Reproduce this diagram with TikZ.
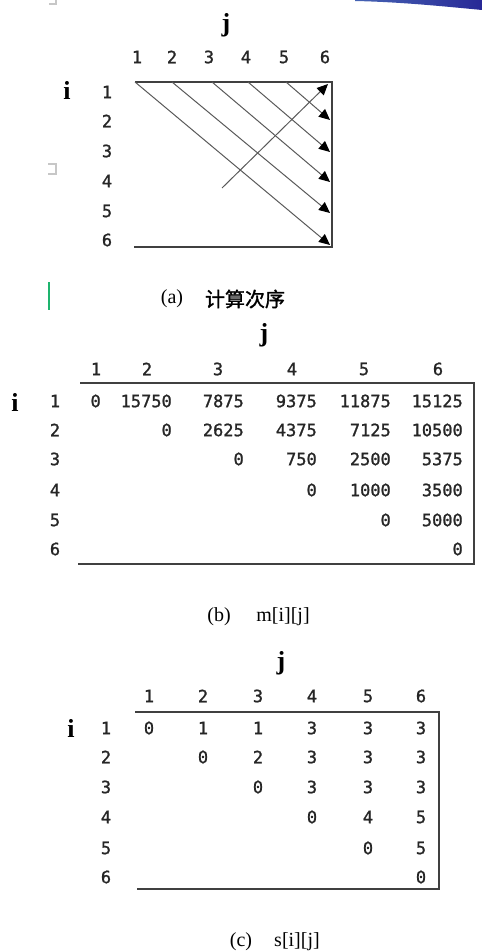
\documentclass[tikz,border=0pt]{standalone}
\usepackage{fontspec}
\setmainfont{Liberation Serif}
\newfontfamily\digitfont[FakeBold=1.2]{DejaVu Sans Mono}
\newfontfamily\cjkfont[FakeBold=1.5]{Noto Sans CJK SC}
\usetikzlibrary{arrows.meta}
\begin{document}
\begin{tikzpicture}[x=1pt,y=-1pt,
  numtext/.style={font=\digitfont\fontsize{17}{19}\selectfont, inner sep=0pt, text=black!85},
  axislabel/.style={font=\bfseries\fontsize{26}{28}\selectfont, inner sep=0pt},
  captext/.style={font=\fontsize{20}{22}\selectfont, inner sep=0pt},
  cjkcap/.style={font=\cjkfont\fontsize{20}{22}\selectfont, inner sep=0pt},
  boxline/.style={line width=1.4pt, draw=black!75},
  diagarrow/.style={line width=1pt, draw=black!65, -{Triangle[length=11pt,width=10pt,color=black]}},
  graymark/.style={line width=1.5pt, draw=black!22}]
\useasboundingbox (0,0) rectangle (482,952);

% decorations
\shade[left color={rgb,255:red,70;green,100;blue,180}, middle color=black!90, right color={rgb,255:red,40;green,40;blue,150}]
  (355,0) -- (482,0) -- (482,10) .. controls (440,6) and (400,2) .. (355,1) -- cycle;
\draw[graymark] (49,4) -- (56,4) -- (56,0);
\draw[graymark] (48,164) -- (56,164) -- (56,174) -- (48,174);
\draw[line width=1.6pt, draw={rgb,255:red,30;green,180;blue,110}] (49,282) -- (49,310);

% ---------- (a) ----------
\node[axislabel] (a-j) at (226,25) {j};
\node[axislabel] (a-i) at (67,90) {i};
\foreach \c/\x in {1/137,2/172,3/209,4/246,5/284,6/325}
  \node[numtext] (a-c\c) at (\x,57) {\c};
\foreach \r/\y in {1/92,2/121,3/151,4/181,5/211,6/240}
  \node[numtext] (a-r\r) at (107,\y) {\r};
\coordinate (a-tl) at (135,82);
\coordinate (a-tr) at (332,82);
\coordinate (a-br) at (332,247);
\coordinate (a-bl) at (134,247);
\draw[boxline] (a-tl) -- (a-tr) -- (a-br) -- (a-bl);
\foreach \k/\sx/\ey in {1/135/245,2/172/213,3/212/182,4/248/152,5/286/120} {
  \coordinate (a-s\k) at (\sx,82);
  \coordinate (a-e\k) at (330,\ey);
  \draw[diagarrow] (a-s\k) -- (a-e\k);
}
\coordinate (a-us) at (222,188);
\coordinate (a-ue) at (328,84);
\draw[diagarrow] (a-us) -- (a-ue);
\node[captext] (a-cap1) at (172,299) {(a)};
\node[cjkcap] (a-cap2) at (245,299) {计算次序};

% ---------- (b) ----------
\node[axislabel] (b-j) at (264,335) {j};
\node[axislabel] (b-i) at (15,402) {i};
\foreach \c/\x in {1/96,2/147,3/218,4/292,5/364,6/438}
  \node[numtext] (b-c\c) at (\x,369) {\c};
\foreach \r/\y in {1/401,2/430,3/459,4/490,5/520,6/549}
  \node[numtext] (b-r\r) at (55,\y) {\r};
\coordinate (b-tl) at (80,383);
\coordinate (b-tr) at (474,383);
\coordinate (b-br) at (474,564);
\coordinate (b-bl) at (78,564);
\draw[boxline] (b-tl) -- (b-tr) -- (b-br) -- (b-bl);
\foreach \c/\x/\v in {1/101/0,2/172/15750,3/244/7875,4/317/9375,5/391/11875,6/463/15125}
  \node[numtext,anchor=east] (b-1-\c) at (\x,401) {\v};
\foreach \c/\x/\v in {2/172/0,3/244/2625,4/317/4375,5/391/7125,6/463/10500}
  \node[numtext,anchor=east] (b-2-\c) at (\x,430) {\v};
\foreach \c/\x/\v in {3/244/0,4/317/750,5/391/2500,6/463/5375}
  \node[numtext,anchor=east] (b-3-\c) at (\x,459) {\v};
\foreach \c/\x/\v in {4/317/0,5/391/1000,6/463/3500}
  \node[numtext,anchor=east] (b-4-\c) at (\x,490) {\v};
\foreach \c/\x/\v in {5/391/0,6/463/5000}
  \node[numtext,anchor=east] (b-5-\c) at (\x,520) {\v};
\node[numtext,anchor=east] (b-6-6) at (463,549) {0};
\node[captext] (b-cap1) at (219,617) {(b)};
\node[captext] (b-cap2) at (283,617) {m[i][j]};

% ---------- (c) ----------
\node[axislabel] (c-j) at (281,663) {j};
\node[axislabel] (c-i) at (71,728) {i};
\foreach \c/\x in {1/149,2/203,3/258,4/312,5/368,6/421}
  \node[numtext] (c-c\c) at (\x,696) {\c};
\foreach \r/\y in {1/728,2/757,3/787,4/817,5/848,6/877}
  \node[numtext] (c-r\r) at (106,\y) {\r};
\coordinate (c-tl) at (135,712);
\coordinate (c-tr) at (439,712);
\coordinate (c-br) at (439,889);
\coordinate (c-bl) at (137,889);
\draw[boxline] (c-tl) -- (c-tr) -- (c-br) -- (c-bl);
\foreach \c/\x/\v in {1/149/0,2/203/1,3/258/1,4/312/3,5/368/3,6/421/3}
  \node[numtext] (c-1-\c) at (\x,728) {\v};
\foreach \c/\x/\v in {2/203/0,3/258/2,4/312/3,5/368/3,6/421/3}
  \node[numtext] (c-2-\c) at (\x,757) {\v};
\foreach \c/\x/\v in {3/258/0,4/312/3,5/368/3,6/421/3}
  \node[numtext] (c-3-\c) at (\x,787) {\v};
\foreach \c/\x/\v in {4/312/0,5/368/4,6/421/5}
  \node[numtext] (c-4-\c) at (\x,817) {\v};
\foreach \c/\x/\v in {5/368/0,6/421/5}
  \node[numtext] (c-5-\c) at (\x,848) {\v};
\node[numtext] (c-6-6) at (421,877) {0};
\node[captext] (c-cap1) at (241,942) {(c)};
\node[captext] (c-cap2) at (297,942) {s[i][j]};
\end{tikzpicture}
\end{document}
